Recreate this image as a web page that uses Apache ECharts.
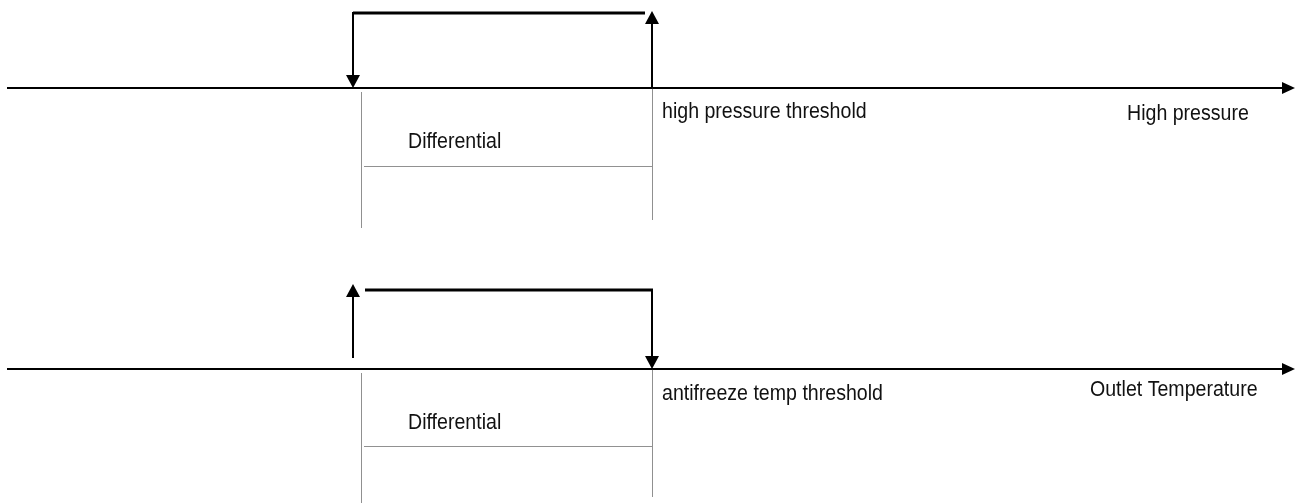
<!DOCTYPE html>
<html><head><meta charset="utf-8">
<script src="https://cdn.jsdelivr.net/npm/echarts@6/dist/echarts.min.js"></script>
<style>html,body{margin:0;padding:0;background:#fff}#c{width:1301px;height:503px}</style>
</head><body><div id="c"></div>
<script>
// ---- diagram data (in diagram units; axes map them 1:1 onto the canvas) ----
const axisNames = ['High pressure', 'Outlet Temperature'];
const thresholdNames = ['high pressure threshold', 'antifreeze temp threshold'];
const differentialName = 'Differential';
const axisLevel = [88, 369];          // y of each horizontal axis
const stepLevel = [13, 290];          // y of the top of each hysteresis step
const thresholdValue = [652, 652];    // x of the threshold
const resetValue = [353, 353];        // x of the reset point (threshold - differential)
const axisStart = 7, axisEnd = 1295;
const thresholdArrowUp = [true, false];   // direction of arrow at threshold
const dottedLeft = [361, 361];
const dottedLeftEnd = [228, 503];
const dottedRightEnd = [220, 497];
const dottedMid = [166, 446];
const dottedMidStart = [364, 364];

const FONT = '22px "Liberation Sans", Arial, sans-serif';
const SCALE_X = 0.89;
const HEAD = 13, HALF = 7;

const solid = [], dotted = [], heads = [], texts = [];
for (let i = 0; i < 2; i++) {
  const ay = axisLevel[i], sy = stepLevel[i], tx = thresholdValue[i], rx = resetValue[i];
  solid.push([axisStart, ay, axisEnd - HEAD, ay, 2]);
  heads.push([axisEnd, ay, 0]);
  if (thresholdArrowUp[i]) {
    solid.push([tx, ay, tx, sy + HEAD - 2, 2]);
    heads.push([tx, sy - 2, 1]);
    solid.push([rx, sy, tx - 7, sy, 3]);
    solid.push([rx, sy - 1, rx, ay - HEAD, 2]);
    heads.push([rx, ay, 2]);
  } else {
    solid.push([rx, ay - 11, rx, sy - 6 + HEAD, 2]);
    heads.push([rx, sy - 6, 1]);
    solid.push([rx + 12, sy, tx + 1, sy, 3]);
    solid.push([tx, sy, tx, ay - HEAD, 2]);
    heads.push([tx, ay, 2]);
  }
  dotted.push([dottedLeft[i], ay + 4, dottedLeft[i], dottedLeftEnd[i]]);
  dotted.push([tx, ay, tx, dottedRightEnd[i]]);
  dotted.push([dottedMidStart[i], dottedMid[i], tx, dottedMid[i]]);
}
texts.push({name: thresholdNames[0], x: 662, y: 112});
texts.push({name: axisNames[0], x: 1127, y: 114});
texts.push({name: differentialName, x: 408, y: 142});
texts.push({name: thresholdNames[1], x: 662, y: 394});
texts.push({name: axisNames[1], x: 1090, y: 390});
texts.push({name: differentialName, x: 408, y: 423});

const chart = echarts.init(document.getElementById('c'), null, {renderer: 'canvas'});
chart.setOption({
  animation: false,
  backgroundColor: '#fff',
  grid: {left: 0, right: 0, top: 0, bottom: 0},
  xAxis: {type: 'value', min: 0, max: 1301, show: false},
  yAxis: {type: 'value', min: 0, max: 503, inverse: true, show: false},
  series: [
    {
      type: 'custom', data: solid, encode: {x: [0, 2], y: [1, 3]},
      renderItem: (p, api) => {
        const a = api.coord([api.value(0), api.value(1)]);
        const b = api.coord([api.value(2), api.value(3)]);
        return {type: 'line', shape: {x1: a[0], y1: a[1], x2: b[0], y2: b[1]},
          style: {stroke: '#000', lineWidth: api.value(4)}};
      }
    },
    {
      type: 'custom', data: dotted, encode: {x: [0, 2], y: [1, 3]},
      renderItem: (p, api) => {
        const a = api.coord([api.value(0), api.value(1)]);
        const b = api.coord([api.value(2), api.value(3)]);
        return {type: 'line', shape: {x1: a[0] + 0.5, y1: a[1] + 0.5, x2: b[0] + 0.5, y2: b[1] + 0.5},
          style: {stroke: '#222', lineWidth: 1, lineDash: [1, 1]}};
      }
    },
    {
      type: 'custom', data: heads, encode: {x: 0, y: 1},
      renderItem: (p, api) => {
        const t = api.coord([api.value(0), api.value(1)]);
        const d = api.value(2);
        let pts;
        if (d === 0) pts = [[t[0], t[1]], [t[0] - HEAD, t[1] - HALF + 1], [t[0] - HEAD, t[1] + HALF - 1]];
        else if (d === 1) pts = [[t[0], t[1]], [t[0] - HALF, t[1] + HEAD], [t[0] + HALF, t[1] + HEAD]];
        else pts = [[t[0], t[1]], [t[0] - HALF, t[1] - HEAD], [t[0] + HALF, t[1] - HEAD]];
        return {type: 'polygon', shape: {points: pts}, style: {fill: '#000'}};
      }
    },
    {
      type: 'custom', data: texts.map(t => [t.x, t.y]), encode: {x: 0, y: 1},
      renderItem: (p, api) => {
        const c = api.coord([api.value(0), api.value(1)]);
        return {type: 'text', x: c[0], y: c[1], scaleX: SCALE_X,
          style: {text: texts[p.dataIndex].name, font: FONT, fill: '#111', align: 'left', verticalAlign: 'middle'}};
      }
    }
  ]
});
</script></body></html>
